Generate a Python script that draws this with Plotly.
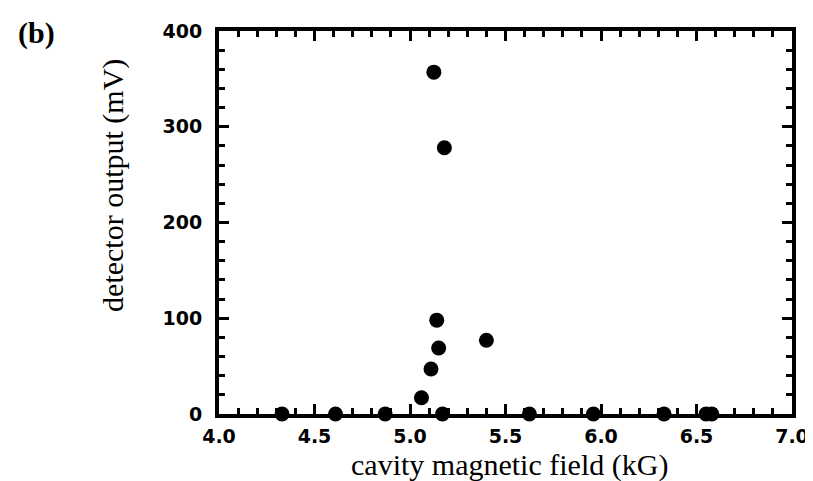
import plotly.graph_objects as go

# cavity magnetic field (kG) and detector output (mV)
field_kG = [4.33, 4.61, 4.87, 5.06, 5.11, 5.125, 5.14, 5.15, 5.18, 5.17, 5.40,
            5.625, 5.96, 6.33, 6.55, 6.58]
output_mV = [0, 0, 0, 17, 47, 357, 98, 69, 278, 0, 77,
             0, 0, 0, 0, 0]

x_ticks = [4.0, 4.5, 5.0, 5.5, 6.0, 6.5, 7.0]
x_labels = ["4.0", "4.5", "5.0", "5.5", "6.0", "6.5", "7.0"]
y_ticks = [0, 100, 200, 300, 400]

W, H = 813, 481
L, R, T, B = 211, 25, 21, 75

fig = go.Figure()
fig.add_trace(
    go.Scatter(
        x=field_kG,
        y=output_mV,
        mode="markers",
        marker=dict(color="black", size=15, line=dict(width=0)),
        cliponaxis=False,
        showlegend=False,
    )
)

tick_font = dict(family="DejaVu Sans", size=19, color="black", weight="bold")
axis_style = dict(
    ticks="inside",
    ticklen=10,
    tickwidth=2.5,
    tickcolor="black",
    showline=True,
    linewidth=4,
    linecolor="black",
    mirror="allticks",
    showgrid=False,
    zeroline=False,
    tickfont=tick_font,
)

fig.update_xaxes(
    range=[4.0, 7.0],
    tickvals=x_ticks,
    ticktext=x_labels,
    minor=dict(dtick=0.1, ticks="inside", ticklen=6, tickwidth=2.5, tickcolor="black"),
    ticklabelstandoff=2,
    **axis_style,
)
fig.update_yaxes(
    range=[0, 400],
    tickvals=y_ticks,
    minor=dict(dtick=20, ticks="inside", ticklen=6, tickwidth=2.5, tickcolor="black"),
    ticklabelstandoff=9,
    **axis_style,
)

# texts placed by their centre in pixels (x from left, y from bottom)
texts = [
    dict(text="cavity magnetic field (kG)", x=504, y=24, angle=0, size=30, bold=False),
    dict(text="detector output (mV)", x=104, y=305, angle=-90, size=30, bold=False),
    dict(text="(b)", x=27, y=458, angle=0, size=30, bold=True),
]
pw = W - L - R
ph = H - T - B
annotations = []
for t in texts:
    annotations.append(
        dict(
            text=f"<b>{t['text']}</b>" if t["bold"] else t["text"],
            textangle=t["angle"],
            x=(t["x"] - L) / pw,
            y=(t["y"] - B) / ph,
            xref="paper",
            yref="paper",
            xanchor="center",
            yanchor="middle",
            showarrow=False,
            font=dict(family="Liberation Serif", size=t["size"], color="black"),
        )
    )

fig.update_layout(
    width=W,
    height=H,
    margin=dict(l=L, r=R, t=T, b=B),
    plot_bgcolor="white",
    paper_bgcolor="white",
    annotations=annotations,
)

fig.write_html("out.html")
